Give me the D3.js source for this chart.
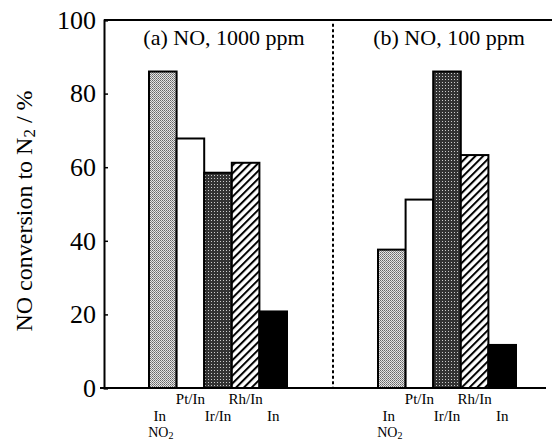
<!DOCTYPE html>
<html><head><meta charset="utf-8">
<script src="https://cdn.jsdelivr.net/npm/d3@7"></script>
<style>body{margin:0;background:#fff}svg{display:block}text{font-family:"Liberation Serif","Times New Roman",serif;fill:#000}</style>
</head><body>
<script>
const categories = ["In", "Pt/In", "Ir/In", "Rh/In", "In"];
const labelRows = [1, 0, 1, 0, 1];
const extraLabel = "NO";      // third-row label under the first bar (with subscript 2)
const panelA = [86, 67.8, 58.5, 61.2, 20.8];   // NO, 1000 ppm
const panelB = [37.6, 51.2, 86, 63.3, 11.7];   // NO, 100 ppm
const panelTitles = ["(a) NO, 1000 ppm", "(b) NO, 100 ppm"];
const yTicks = [0, 20, 40, 60, 80, 100];
const fills = ["url(#light)", "#fff", "url(#dark)", "url(#hatch)", "#000"];

const W = 552, H = 441;
const svg = d3.select("body").append("svg").attr("width", W).attr("height", H);
const defs = svg.append("defs");
// light stipple
const pl = defs.append("pattern").attr("id","light").attr("patternUnits","userSpaceOnUse").attr("width",2).attr("height",2);
pl.append("rect").attr("width",2).attr("height",2).attr("fill","#e4e4e4");
pl.append("rect").attr("width",1).attr("height",1).attr("fill","#666");
pl.append("rect").attr("x",1).attr("y",1).attr("width",1).attr("height",1).attr("fill","#888");
// dark stipple
const pd = defs.append("pattern").attr("id","dark").attr("patternUnits","userSpaceOnUse").attr("width",3).attr("height",3);
pd.append("rect").attr("width",3).attr("height",3).attr("fill","#333");
pd.append("rect").attr("x",1).attr("y",1).attr("width",1).attr("height",1).attr("fill","#ccc");
// hatch
const ph = defs.append("pattern").attr("id","hatch").attr("patternUnits","userSpaceOnUse").attr("width",5.5).attr("height",5.5)
  .attr("patternTransform","rotate(45)");
ph.append("rect").attr("width",5.5).attr("height",5.5).attr("fill","#fff");
ph.append("rect").attr("width",2).attr("height",5.5).attr("fill","#000");

const y = d3.scaleLinear().domain([0,100]).range([388,20]);
const xA = d3.scaleBand().domain(d3.range(5)).range([149,287]).padding(0);
const xB = d3.scaleBand().domain(d3.range(5)).range([378,516]).padding(0);

// frame
svg.append("line").attr("x1",104).attr("x2",552).attr("y1",y(100)).attr("y2",y(100)).attr("stroke","#000").attr("stroke-width",2);
svg.append("line").attr("x1",100).attr("x2",546).attr("y1",y(0)).attr("y2",y(0)).attr("stroke","#000").attr("stroke-width",2);

// y axis
const yAxis = d3.axisLeft(y).tickValues(yTicks).tickSize(-4).tickPadding(8);
const ga = svg.append("g").attr("transform","translate(104,0)").call(yAxis);
ga.select(".domain").attr("stroke-width",2);
ga.selectAll(".tick line").attr("stroke-width",1.5);
ga.selectAll(".tick text").attr("font-size",26).attr("font-family","Liberation Serif");

// y title
const yt = svg.append("text").attr("transform","translate(32,211) rotate(-90)").attr("text-anchor","middle").attr("font-size",24);
yt.append("tspan").text("NO conversion to N");
yt.append("tspan").attr("font-size",17).attr("dy",3).text("2");
yt.append("tspan").attr("dy",-3).text(" / %");

// divider
svg.append("line").attr("x1",333).attr("x2",333).attr("y1",y(99)).attr("y2",y(0)).attr("stroke","#000").attr("stroke-width",2).attr("stroke-dasharray","3,2.5");

// titles
svg.append("text").attr("x",224).attr("y",45).attr("text-anchor","middle").attr("font-size",22).text(panelTitles[0]);
svg.append("text").attr("x",449).attr("y",45).attr("text-anchor","middle").attr("font-size",22).text(panelTitles[1]);

function panel(data, x){
  const g = svg.append("g");
  g.selectAll("rect").data(data).join("rect")
    .attr("x",(d,i)=>x(i)).attr("width",x.bandwidth())
    .attr("y",d=>y(d)).attr("height",d=>y(0)-y(d))
    .attr("fill",(d,i)=>fills[i]).attr("stroke","#000").attr("stroke-width",2);
  g.selectAll("text.cat").data(categories).join("text").attr("class","cat")
    .attr("x",(d,i)=>x(i)+x.bandwidth()/2 - (i===0?3:0)).attr("y",(d,i)=>404+labelRows[i]*17)
    .attr("text-anchor","middle").attr("font-size",15).text(d=>d);
  const t = g.append("text").attr("x",x(0)+x.bandwidth()/2-2).attr("y",437).attr("text-anchor","middle").attr("font-size",14);
  t.append("tspan").text(extraLabel);
  t.append("tspan").attr("font-size",10).attr("dy",1.5).text("2");
}
panel(panelA, xA);
panel(panelB, xB);
</script>
</body></html>
